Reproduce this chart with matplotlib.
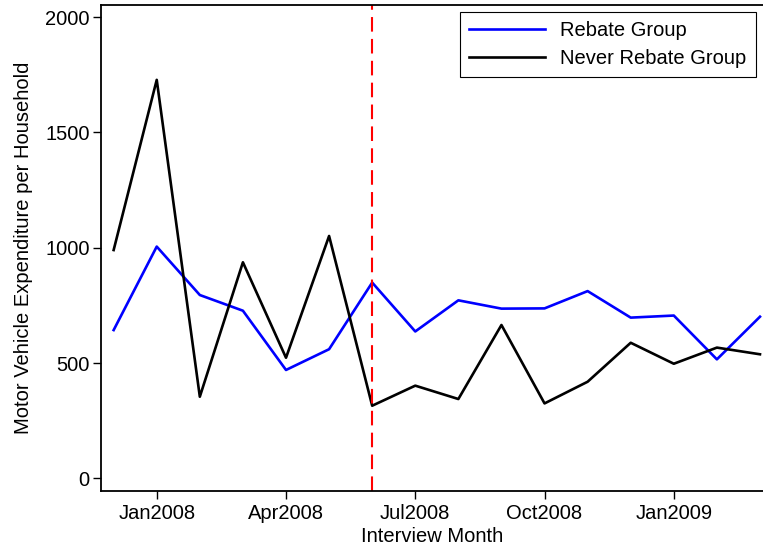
import numpy as np
import matplotlib.pyplot as plt

plt.rcParams['font.family'] = ['Liberation Sans', 'DejaVu Sans']

# interview months, Dec2007 .. Mar2009
months = ['Dec2007', 'Jan2008', 'Feb2008', 'Mar2008', 'Apr2008', 'May2008',
          'Jun2008', 'Jul2008', 'Aug2008', 'Sep2008', 'Oct2008', 'Nov2008',
          'Dec2008', 'Jan2009', 'Feb2009', 'Mar2009']
rebate = [643, 1005, 795, 727, 470, 560, 849, 637, 772, 736, 737, 812,
          697, 706, 516, 701]
never_rebate = [990, 1728, 354, 937, 523, 1051, 315, 402, 344, 665, 325, 419,
                588, 497, 567, 538]
tick_months = ['Jan2008', 'Apr2008', 'Jul2008', 'Oct2008', 'Jan2009']
rebate_start = 'Jun2008'

x = np.arange(len(months))

fig = plt.figure(figsize=(7.63, 5.45), dpi=100)
ax = fig.add_axes([0.132, 0.099, 0.868, 0.892])

ax.plot(x, rebate, color='blue', lw=1.9, label='Rebate Group')
ax.plot(x, never_rebate, color='black', lw=1.9, label='Never Rebate Group')
ax.axvline(months.index(rebate_start), color='red', lw=1.5, ls=(0, (7, 3.5)))

ax.set_xlim(-0.3, 15.07)
ax.set_ylim(-55, 2053)
ax.set_xticks([months.index(m) for m in tick_months])
ax.set_xticklabels(tick_months)
ax.set_yticks([0, 500, 1000, 1500, 2000])
ax.tick_params(labelsize=14.5, length=5.5, width=1, direction='out', pad=2.5)
ax.tick_params(axis='x', pad=4)
ax.spines['right'].set_visible(False)
for s in ['left', 'bottom', 'top']:
    ax.spines[s].set_linewidth(1.3)

ax.set_xlabel('Interview Month', fontsize=14.5, labelpad=2.5)
ax.set_ylabel('Motor Vehicle Expenditure per Household', fontsize=14.5, labelpad=9)

leg = ax.legend(loc='upper right', bbox_to_anchor=(0.989, 0.985), borderaxespad=0,
                fancybox=False, edgecolor='black', framealpha=1, fontsize=14.5,
                handlelength=3.8, handletextpad=0.75, borderpad=0.45, labelspacing=0.45)
leg.get_frame().set_linewidth(0.8)

fig.savefig('out.png', dpi=100)
